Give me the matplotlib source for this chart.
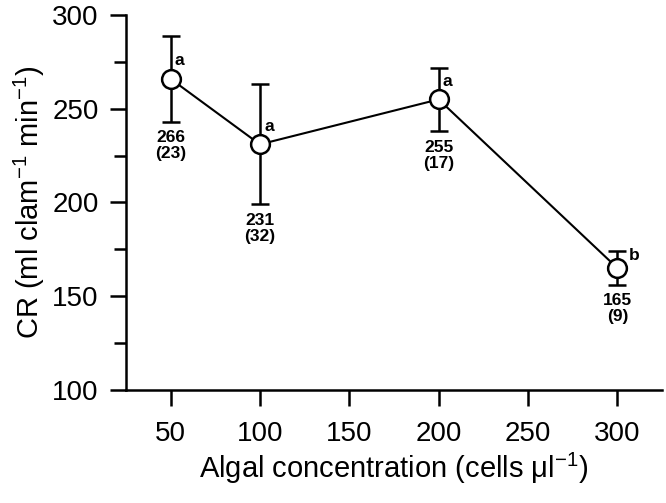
import matplotlib
matplotlib.use("Agg")
import matplotlib.pyplot as plt
from matplotlib.ticker import MultipleLocator

plt.rcParams['font.family'] = ['Liberation Sans', 'DejaVu Sans']
plt.rcParams['mathtext.fontset'] = 'custom'
plt.rcParams['mathtext.rm'] = 'Liberation Sans'
plt.rcParams['mathtext.it'] = 'Liberation Sans'
plt.rcParams['mathtext.default'] = 'regular'

conc = [50, 100, 200, 300]
cr = [266, 231, 255, 165]
se = [23, 32, 17, 9]
letters = ['a', 'a', 'a', 'b']
xticks = [50, 100, 150, 200, 250, 300]
yticks = [100, 150, 200, 250, 300]

fig = plt.figure(figsize=(6.66, 5.03), dpi=100)
ax = fig.add_axes([0.189, 0.225, 0.805, 0.745])

ax.errorbar(conc, cr, yerr=se, fmt='none', ecolor='black', elinewidth=1.8,
            capsize=6.5, capthick=1.8, zorder=2)
ax.plot(conc, cr, '-', color='black', lw=1.5, zorder=3)
ax.plot(conc, cr, 'o', color='black', markerfacecolor='white', markersize=13.5,
        markeredgewidth=1.8, zorder=4)

for x, y, s, l in zip(conc, cr, se, letters):
    ax.annotate(f"{y}\n({s})", xy=(x, y - s), xytext=(0, -6), textcoords='offset points',
                ha='center', va='top', fontsize=12.5, fontweight='bold', linespacing=1.1)
    if l == 'b':
        ax.annotate(l, xy=(x, y), xytext=(8, 9), textcoords='offset points',
                    ha='left', va='center', fontsize=12.5, fontweight='bold')
    else:
        ax.annotate(l, xy=(x, y), xytext=(3, 13), textcoords='offset points',
                    ha='left', va='center', fontsize=12.5, fontweight='bold')

ax.set_xlim(25, 325)
ax.set_ylim(100, 300)
ax.set_xticks(xticks)
ax.set_yticks(yticks)
ax.yaxis.set_minor_locator(MultipleLocator(25))
ax.spines['top'].set_visible(False)
ax.spines['right'].set_visible(False)
ax.spines['left'].set_linewidth(1.8)
ax.spines['bottom'].set_linewidth(1.8)
ax.tick_params(axis='both', which='major', length=11.5, width=1.8, labelsize=20)
ax.tick_params(axis='y', which='minor', length=8.5, width=1.8)
ax.tick_params(axis='y', which='major', pad=8)
ax.tick_params(axis='x', which='major', pad=11)

ax.set_xlabel('Algal concentration (cells \u03bcl$^{-1}$)', fontsize=21, labelpad=3)
ax.set_ylabel('CR (ml clam$^{-1}$ min$^{-1}$)', fontsize=21, labelpad=4)

fig.savefig('out.png', dpi=100)
